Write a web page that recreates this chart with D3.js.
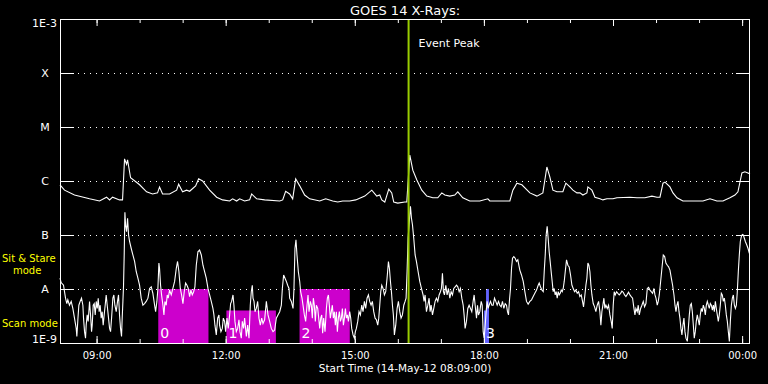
<!DOCTYPE html>
<html>
<head>
<meta charset="utf-8">
<script src="https://cdn.jsdelivr.net/npm/d3@7"></script>
<style>
  body { margin: 0; background: #000; }
  svg text { font-family: "DejaVu Sans", sans-serif; fill: #fff; }
</style>
</head>
<body>
<div id="chart"></div>
<script>
// set the dimensions and margins of the graph
var margin = { top: 19, right: 18, bottom: 41, left: 60 },
  width = 768 - margin.left - margin.right,
  height = 384 - margin.top - margin.bottom;

// minutes after 14-May-12 08:09:00, log10 of flux (W/m^2)
var longFlux = [
  [0,-6.07],[6.3,-6.17],[20.2,-6.26],[41.2,-6.33],[55.1,-6.37],[64.9,-6.30],[69.1,-6.35],[73.3,-6.30],
  [83.0,-6.35],[87.2,-6.35],[90.0,-5.59],[92.8,-5.69],[94.2,-5.61],[98.4,-5.94],[111.0,-6.07],[120.7,-6.20],
  [129.1,-6.24],[136.0,-6.22],[138.8,-6.11],[143.0,-6.24],[152.8,-6.24],[162.6,-6.17],[165.4,-6.06],[170.9,-6.20],
  [176.5,-6.17],[180.7,-6.19],[189.1,-6.09],[193.3,-5.96],[198.8,-6.00],[208.6,-6.17],[218.4,-6.30],[226.7,-6.35],
  [236.5,-6.37],[240.7,-6.33],[246.3,-6.37],[250.5,-6.33],[257.4,-6.37],[264.4,-6.35],[267.2,-6.24],[274.2,-6.33],
  [285.3,-6.35],[306.3,-6.37],[310.5,-6.35],[314.6,-6.19],[320.2,-6.24],[324.4,-6.33],[328.6,-5.96],[334.2,-6.09],
  [341.1,-6.26],[348.1,-6.33],[362.1,-6.37],[370.4,-6.33],[380.2,-6.37],[387.2,-6.39],[394.2,-6.37],[403.9,-6.37],
  [412.3,-6.35],[424.9,-6.28],[434.7,-6.17],[441.6,-6.28],[445.8,-6.26],[448.6,-6.35],[452.8,-6.39],[458.4,-6.15],
  [462.5,-6.22],[465.3,-6.39],[470.9,-6.41],[480.7,-6.39],[483.5,-6.39],[487.7,-5.52],[491.9,-5.80],[497.5,-5.98],
  [504.4,-6.17],[511.4,-6.28],[519.8,-6.31],[526.7,-6.31],[532.3,-6.22],[536.5,-6.26],[543.5,-6.28],[550.4,-6.26],
  [554.6,-6.20],[561.6,-6.31],[571.3,-6.37],[585.3,-6.37],[596.5,-6.33],[599.3,-6.37],[613.2,-6.37],[627.2,-6.37],
  [631.4,-6.17],[637.0,-6.04],[643.9,-6.07],[655.1,-6.22],[664.9,-6.28],[673.2,-6.22],[678.8,-5.74],[683.0,-5.93],
  [687.2,-6.17],[692.8,-6.20],[701.1,-6.20],[705.3,-6.04],[710.9,-6.11],[715.1,-6.17],[720.7,-6.22],[724.9,-6.22],
  [729.0,-6.26],[734.6,-6.22],[736.0,-6.11],[741.6,-6.17],[745.8,-6.30],[752.8,-6.33],[756.9,-6.35],[762.5,-6.33],
  [770.9,-6.33],[776.4,-6.31],[794.6,-6.30],[804.4,-6.31],[815.5,-6.31],[825.3,-6.28],[832.3,-6.30],[836.5,-6.30],
  [840.7,-6.04],[843.5,-6.02],[850.4,-6.11],[854.6,-6.22],[860.2,-6.31],[868.5,-6.37],[878.3,-6.37],[896.4,-6.37],
  [906.2,-6.33],[915.9,-6.37],[924.3,-6.37],[934.0,-6.31],[941.0,-6.26],[945.2,-6.20],[948.0,-6.02],[950.7,-5.85],
  [954.9,-5.83],[959.1,-5.85],[961.9,-5.87]
];

var shortFlux = [
  [0,-7.80],[1.6,-7.88],[4.9,-7.93],[7.7,-8.17],[9.5,-8.27],[10.9,-8.20],[13.2,-8.30],[15.6,-8.23],[17.9,-8.36],
  [20.2,-8.54],[22.6,-8.73],[23.5,-8.88],[24.9,-8.57],[26.3,-8.30],[28.1,-8.23],[30.0,-8.17],[31.9,-8.30],[32.8,-8.54],
  [34.2,-8.79],[35.6,-8.91],[36.5,-8.67],[37.9,-8.48],[39.3,-8.60],[41.2,-8.23],[42.6,-8.48],[44.0,-8.79],[44.9,-8.67],
  [46.3,-8.30],[47.7,-8.27],[49.1,-8.48],[50.5,-8.23],[51.9,-8.36],[53.3,-8.17],[54.6,-8.42],[56.0,-8.30],[57.4,-8.54],
  [58.8,-8.42],[60.2,-8.67],[61.6,-8.48],[63.0,-8.30],[64.4,-8.11],[65.8,-8.30],[67.2,-8.48],[69.1,-8.73],[70.5,-8.79],
  [71.9,-8.54],[73.7,-8.17],[75.1,-8.11],[76.5,-8.30],[78.4,-8.42],[80.2,-8.23],[81.6,-8.11],[83.0,-8.48],[84.4,-8.73],
  [85.8,-8.88],[86.7,-8.54],[87.7,-8.23],[88.6,-7.93],[89.5,-7.37],[90.5,-6.58],[91.4,-6.81],[92.8,-6.94],[94.2,-6.69],
  [95.6,-7.00],[97.0,-7.12],[99.3,-7.25],[101.6,-7.37],[104.0,-7.49],[106.3,-7.68],[108.6,-7.80],[110.9,-7.93],
  [113.2,-8.17],[115.6,-8.30],[117.9,-8.27],[120.2,-8.23],[122.6,-8.17],[124.9,-7.99],[127.2,-7.96],[129.5,-8.08],
  [131.9,-8.30],[133.3,-8.42],[135.1,-8.23],[136.5,-7.99],[137.9,-7.52],[138.8,-7.62],[140.2,-7.93],[141.6,-8.11],
  [143.5,-8.30],[144.9,-8.48],[146.3,-8.23],[148.1,-8.30],[149.5,-8.11],[150.9,-8.17],[152.8,-8.02],[155.1,-8.11],
  [157.4,-7.99],[159.8,-7.86],[162.1,-7.62],[163.9,-7.49],[165.8,-7.68],[167.7,-7.99],[169.5,-8.11],[171.4,-8.27],
  [173.2,-8.05],[175.1,-7.89],[177.0,-7.93],[178.8,-7.99],[180.7,-8.14],[182.5,-8.02],[184.4,-8.11],[186.3,-8.05],
  [188.1,-7.96],[190.0,-7.56],[192.3,-7.31],[194.6,-7.28],[197.0,-7.37],[199.3,-7.56],[201.6,-7.68],[203.9,-7.80],
  [206.3,-7.99],[208.6,-8.11],[210.9,-8.23],[213.2,-8.36],[214.6,-8.48],[216.0,-8.67],[217.9,-8.85],[219.8,-8.54],
  [221.6,-8.48],[222.5,-8.67],[224.4,-8.79],[226.3,-8.73],[227.7,-8.54],[229.5,-8.60],[230.9,-8.79],[232.8,-8.54],
  [234.6,-8.73],[236.5,-8.48],[237.9,-8.27],[239.3,-8.23],[241.2,-8.11],[242.5,-8.30],[243.9,-8.60],[245.8,-8.79],
  [247.7,-8.73],[249.5,-8.57],[250.9,-8.79],[252.8,-8.91],[254.2,-8.60],[256.0,-8.73],[257.4,-8.54],[259.8,-8.88],
  [261.6,-8.67],[263.5,-8.91],[265.3,-8.30],[266.7,-8.05],[268.1,-7.93],[269.1,-8.17],[270.5,-8.23],[271.9,-8.42],
  [273.7,-8.36],[275.6,-8.23],[277.4,-8.54],[279.3,-8.67],[281.2,-8.54],[283.0,-8.64],[285.3,-8.57],[287.7,-8.23],
  [290.0,-8.48],[292.3,-8.60],[294.6,-8.73],[297.0,-8.79],[299.3,-8.76],[301.6,-8.54],[303.9,-8.48],[306.3,-8.42],
  [308.6,-8.30],[310.0,-7.99],[311.8,-7.74],[313.7,-7.80],[315.6,-7.86],[317.4,-7.93],[319.3,-7.99],
  [320.2,-8.17],[322.5,-8.23],[324.9,-8.36],[326.2,-7.99],[327.6,-7.25],[329.0,-7.09],[330.4,-7.37],[332.3,-7.68],
  [334.2,-7.86],[335.5,-8.05],[337.4,-8.17],[338.8,-8.30],[340.7,-8.48],[342.5,-8.60],[344.4,-8.30],[345.8,-8.11],
  [347.2,-8.42],[349.0,-8.23],[350.4,-8.30],[351.8,-8.54],[353.2,-8.17],[354.6,-8.30],[356.0,-8.60],[357.4,-8.30],
  [359.3,-8.36],[360.7,-8.54],[362.1,-8.73],[363.5,-8.54],[364.9,-8.48],[366.2,-8.82],[367.6,-8.54],[369.5,-8.79],
  [371.4,-8.36],[372.8,-8.17],[374.2,-8.11],[375.5,-8.30],[376.9,-8.54],[378.3,-8.42],[379.7,-8.30],[381.1,-8.54],
  [382.5,-8.42],[383.9,-8.67],[385.3,-8.42],[386.7,-8.79],[388.1,-8.54],[389.5,-8.42],[390.9,-8.60],[392.3,-8.54],
  [393.7,-8.36],[395.1,-8.67],[396.5,-8.54],[397.9,-8.36],[399.3,-8.54],[400.7,-8.48],[402.1,-8.60],[403.9,-8.42],
  [405.3,-8.54],[406.7,-8.73],[408.6,-8.85],[410.4,-8.91],[411.8,-8.79],[413.2,-8.73],[415.1,-8.60],[416.9,-8.42],
  [418.8,-8.48],[420.7,-8.30],[422.5,-8.42],[424.4,-8.23],[426.2,-8.36],[428.1,-8.17],[430.0,-8.11],[431.8,-8.23],
  [433.7,-8.30],[435.5,-8.23],[437.4,-8.42],[439.3,-8.54],[441.1,-8.57],[443.0,-8.67],[444.4,-8.54],[445.8,-8.30],
  [447.2,-8.05],[448.6,-7.93],[450.4,-7.99],[452.3,-8.11],[454.1,-8.05],[456.0,-7.80],[457.9,-7.49],[459.3,-7.62],
  [460.7,-7.86],[462.1,-8.05],[463.5,-8.30],[464.8,-8.48],[466.2,-8.85],[468.1,-8.67],[470.0,-8.36],[471.8,-8.23],
  [473.7,-8.42],[475.5,-8.54],[477.4,-8.48],[479.3,-8.30],[481.1,-8.23],[482.5,-8.17],[483.9,-7.68],[485.3,-7.06],
  [488.6,-6.47],[490.0,-6.69],[491.4,-6.81],[493.2,-7.06],[495.1,-7.37],[496.9,-7.49],[499.3,-7.68],[501.6,-7.86],
  [503.9,-7.99],[506.2,-8.11],[507.6,-8.23],[509.0,-8.11],[510.9,-8.42],[512.8,-8.30],[514.6,-8.17],[516.0,-8.42],
  [517.4,-8.30],[519.3,-8.48],[521.1,-8.36],[523.0,-8.23],[524.8,-8.17],[526.7,-8.23],[528.6,-8.11],[530.4,-8.05],
  [531.8,-7.99],[533.2,-7.71],[534.6,-8.05],[536.0,-8.11],[537.9,-7.93],[539.7,-8.11],[541.6,-7.99],[543.5,-8.17],
  [545.3,-8.05],[547.2,-8.11],[549.0,-7.99],[550.9,-7.96],[552.8,-7.93],[554.6,-7.96],[556.5,-8.05],[558.3,-7.99],
  [560.2,-8.17],[562.1,-8.30],[563.4,-8.48],[564.8,-8.73],[566.7,-8.60],[568.6,-8.36],[570.4,-8.30],[572.3,-8.36],
  [574.1,-8.42],[576.0,-8.23],[577.4,-8.11],[578.8,-8.30],[580.7,-8.54],[582.1,-8.30],[583.4,-8.48],[585.3,-8.42],
  [587.2,-8.23],[588.6,-8.30],[590.0,-8.79],[591.4,-8.91],[592.8,-8.67],[594.1,-8.42],[595.5,-8.23],[596.9,-8.36],
  [598.3,-8.30],[600.2,-8.23],[602.1,-8.30],[603.9,-8.30],[605.8,-8.17],[607.6,-8.23],[609.5,-8.30],[611.4,-8.23],
  [613.2,-8.30],[615.1,-8.33],[616.9,-8.23],[618.8,-8.36],[620.7,-8.27],[622.5,-8.30],[623.9,-8.42],[625.3,-8.48],
  [626.7,-8.20],[628.1,-7.99],[629.5,-7.62],[630.9,-7.43],[632.7,-7.40],[634.6,-7.43],[636.5,-7.49],[638.3,-7.46],
  [640.2,-7.59],
  [641.1,-7.65],[643.4,-7.74],[645.8,-7.86],[648.1,-8.05],[650.4,-8.23],[652.7,-8.28],[655.1,-8.23],[657.4,-8.20],
  [659.7,-8.14],[662.0,-8.08],[664.4,-8.02],[666.7,-7.93],[668.1,-7.89],[669.9,-7.96],[671.8,-8.02],[673.7,-8.05],
  [675.1,-7.68],[676.5,-7.37],[677.8,-7.00],[679.2,-6.84],[680.6,-7.06],[682.0,-7.31],[683.4,-7.49],[684.8,-7.68],
  [686.2,-7.86],[687.6,-8.05],[689.0,-7.99],[690.4,-8.11],[691.8,-8.05],[693.2,-8.17],[694.6,-8.05],[696.0,-8.11],
  [697.4,-8.08],[698.8,-8.02],[700.2,-8.05],[701.6,-7.99],[703.0,-7.86],[704.4,-7.68],[706.2,-7.46],[708.1,-7.56],
  [709.9,-7.59],[711.8,-7.74],[713.7,-7.93],[715.5,-7.99],[717.4,-8.05],[719.2,-8.02],[721.1,-8.08],[723.0,-8.05],
  [724.8,-8.14],[726.7,-8.11],[728.5,-8.23],[729.9,-8.33],[731.8,-8.11],[733.2,-7.93],[734.6,-7.80],[736.0,-7.52],
  [737.4,-7.56],[738.8,-7.68],[740.2,-7.93],[741.6,-8.11],[743.4,-8.27],[745.3,-8.33],[747.1,-8.42],[749.0,-8.30],
  [750.9,-8.23],[752.7,-8.42],[754.1,-8.67],[755.5,-8.42],[756.9,-8.30],[758.3,-8.17],[759.7,-8.36],[761.1,-8.30],
  [763.0,-8.36],[764.8,-8.30],[766.7,-8.48],[768.5,-8.60],[769.9,-8.73],[771.3,-8.30],[772.7,-8.05],[774.1,-8.11],
  [776.0,-8.05],[777.8,-8.08],[779.7,-8.11],[781.6,-8.08],[783.4,-8.04],[785.3,-8.06],[787.1,-8.11],[789.0,-8.14],
  [790.9,-8.10],[792.7,-8.06],[794.6,-8.11],[796.4,-8.14],[798.3,-8.17],[800.2,-8.36],[801.6,-8.48],[802.9,-8.36],
  [804.8,-8.42],[806.2,-8.30],[807.6,-8.48],[809.5,-8.36],[811.3,-8.30],[813.2,-8.23],[815.0,-8.33],[816.9,-8.27],
  [818.8,-7.99],[820.6,-7.97],[822.5,-8.02],[824.3,-8.05],[826.2,-8.08],[828.1,-7.99],[829.5,-8.11],[830.9,-8.17],
  [832.7,-8.30],[834.1,-8.23],[835.5,-8.11],[837.4,-7.86],[839.2,-7.62],[841.1,-7.37],[843.0,-7.40],[844.8,-7.52],
  [846.7,-7.56],[848.5,-7.59],[850.4,-7.65],[852.3,-7.80],[854.1,-7.93],[856.0,-8.11],[857.4,-8.30],[858.8,-8.42],
  [860.2,-8.30],[861.6,-8.23],[863.0,-8.42],[864.3,-8.54],[865.7,-8.73],[867.1,-8.85],[868.5,-8.67],[869.9,-8.54],
  [871.3,-8.79],[872.7,-8.91],[874.6,-8.97],[876.0,-8.73],[877.4,-8.48],[878.8,-8.30],[880.2,-8.27],[881.6,-8.42],
  [883.0,-8.67],[884.3,-8.91],[885.7,-8.79],[887.1,-8.60],[888.5,-8.48],[889.9,-8.57],[891.3,-8.67],[892.7,-8.48],
  [894.1,-8.36],[895.5,-8.42],[896.9,-8.30],[898.3,-8.36],[899.7,-8.48],[901.1,-8.30],[902.5,-8.23],[903.9,-8.30],
  [905.3,-8.36],[906.7,-8.27],[908.1,-8.30],[909.5,-8.39],[910.9,-8.30],[912.3,-8.42],[913.7,-8.23],[915.0,-8.36],
  [916.4,-8.48],[917.8,-8.60],[919.2,-8.48],[920.6,-8.30],[922.0,-8.08],[923.4,-8.11],[924.8,-8.23],[926.2,-8.17],
  [927.6,-8.30],[929.0,-8.48],[930.4,-8.60],[931.8,-8.79],[933.2,-8.97],[934.6,-8.60],[936.0,-8.30],[937.4,-8.17],
  [938.8,-8.11],[940.2,-8.30],[941.6,-8.36],[943.0,-8.30],[944.3,-8.05],[945.7,-7.68],[947.1,-7.37],[948.5,-7.12],
  [949.9,-7.03],[951.3,-6.99],[952.7,-7.00],[954.1,-7.06],[955.5,-7.12],[957.4,-7.18],[959.3,-7.25],[961.1,-7.34]
];

// flux levels and their names on the left
var levelValues = [1e-3, 1e-4, 1e-5, 1e-6, 1e-7, 1e-8, 1e-9];
var levelNames = ["1E-3", "X", "M", "C", "B", "A", "1E-9"];

// observing blocks: start / end minute, mode, block number
var obsStart = [137, 232, 334, 591, 594];
var obsEnd = [207, 301, 404, 598, 598];
var obsMode = ["sit", "scan", "sit", "scan", "sit"];
var obsId = [0, 1, 2, 3, 3];
var modeTop = { sit: 1e-8, scan: 4e-9 };

var eventPeak = 486; // minutes, 16:15
var endMinute = 962;

var t0 = new Date(2012, 4, 14, 8, 9, 0);
function toTime(m) {
  return new Date(t0.getTime() + m * 60000);
}

var svg = d3
  .select("#chart")
  .append("svg")
  .attr("width", width + margin.left + margin.right)
  .attr("height", height + margin.top + margin.bottom);

var canvas = svg
  .append("g")
  .attr("transform", "translate(" + margin.left + "," + margin.top + ")");

var x = d3.scaleTime().domain([t0, toTime(endMinute)]).range([0, width]);
var y = d3.scaleLog().domain([1e-9, 1e-3]).range([height, 0]);

// observing blocks
canvas
  .selectAll("rect.obs")
  .data(obsStart)
  .enter()
  .append("rect")
  .attr("class", "obs")
  .attr("x", (d) => x(toTime(d)))
  .attr("width", (d, i) => x(toTime(obsEnd[i])) - x(toTime(d)))
  .attr("y", (d, i) => y(modeTop[obsMode[i]]))
  .attr("height", (d, i) => height - y(modeTop[obsMode[i]]))
  .attr("fill", (d, i) => (obsId[i] == 3 ? "#6464ff" : "#cc00cc"));

canvas
  .selectAll("text.obs")
  .data(obsStart.filter((d, i) => obsId.indexOf(obsId[i]) == i))
  .enter()
  .append("text")
  .attr("class", "obs")
  .attr("x", (d) => x(toTime(d)) + 2)
  .attr("y", height - 5)
  .style("font-size", "14px")
  .text((d, i) => obsId[i]);

// dotted levels
canvas
  .selectAll("line.grid")
  .data(levelValues.slice(1, 6))
  .enter()
  .append("line")
  .attr("class", "grid")
  .attr("x1", 0)
  .attr("x2", width)
  .attr("y1", (d) => Math.round(y(d)) + 0.5)
  .attr("y2", (d) => Math.round(y(d)) + 0.5)
  .attr("stroke", "#fff")
  .attr("stroke-dasharray", "1,5");

// solid level ticks on both sides
[0, width - 14].forEach((x0) => {
  canvas
    .selectAll(null)
    .data(levelValues.slice(1, 6))
    .enter()
    .append("line")
    .attr("x1", x0)
    .attr("x2", x0 + 14)
    .attr("y1", (d) => Math.round(y(d)) + 0.5)
    .attr("y2", (d) => Math.round(y(d)) + 0.5)
    .attr("stroke", "#fff");
});

// time ticks, top and bottom
var majorTicks = d3.timeHour.every(3);
var minorTicks = d3.timeHour.every(1);

canvas
  .append("g")
  .attr("transform", "translate(0," + height + ")")
  .call(d3.axisBottom(x).ticks(minorTicks).tickFormat("").tickSizeInner(-4).tickSizeOuter(0));
canvas
  .append("g")
  .attr("transform", "translate(0," + height + ")")
  .attr("class", "major")
  .call(
    d3.axisBottom(x).ticks(majorTicks).tickFormat(d3.timeFormat("%H:%M"))
      .tickSizeInner(-7).tickSizeOuter(0).tickPadding(9)
  );
canvas
  .append("g")
  .call(d3.axisTop(x).ticks(minorTicks).tickFormat("").tickSizeInner(-4).tickSizeOuter(0));
canvas
  .append("g")
  .call(d3.axisTop(x).ticks(majorTicks).tickFormat("").tickSizeInner(-7).tickSizeOuter(0));

canvas.selectAll(".domain").remove();
canvas.selectAll(".tick line").attr("stroke", "#fff");
canvas
  .selectAll(".major .tick text")
  .attr("fill", "#fff")
  .attr("dy", "0.7em")
  .style("font-size", "10px")
  .style("font-family", "DejaVu Sans, sans-serif");

// flux curves
var line = d3
  .line()
  .x((d) => x(toTime(d[0])))
  .y((d) => y(Math.pow(10, d[1])));

canvas
  .append("path")
  .datum(longFlux)
  .attr("d", line)
  .attr("fill", "none")
  .attr("stroke", "#fff")
  .attr("stroke-width", 1.1);

canvas
  .append("path")
  .datum(shortFlux)
  .attr("d", line)
  .attr("fill", "none")
  .attr("stroke", "#fff")
  .attr("stroke-width", 1.1);

// event peak
canvas
  .append("line")
  .attr("x1", x(toTime(eventPeak)))
  .attr("x2", x(toTime(eventPeak)))
  .attr("y1", 0)
  .attr("y2", height)
  .attr("stroke", "#99cc00")
  .attr("stroke-width", 2);

canvas
  .append("text")
  .attr("x", x(toTime(eventPeak)) + 10)
  .attr("y", 28)
  .style("font-size", "11px")
  .text("Event Peak");

// frame
canvas
  .append("rect")
  .attr("x", 0.5)
  .attr("y", 0.5)
  .attr("width", width - 1)
  .attr("height", height)
  .attr("fill", "none")
  .attr("stroke", "#fff");

// level labels
svg
  .selectAll("text.level")
  .data(levelValues)
  .enter()
  .append("text")
  .attr("class", "level")
  .attr("x", (d, i) => (i == 0 || i == 6 ? margin.left - 3 : 45))
  .attr("y", (d, i) => {
    var yy = margin.top + y(d);
    if (i == 0) return yy + 8;
    if (i == 6) return yy;
    return yy + 4;
  })
  .attr("text-anchor", (d, i) => (i == 0 || i == 6 ? "end" : "middle"))
  .style("font-size", "11px")
  .text((d, i) => levelNames[i]);

// mode labels
var modeLabels = [
  { text: "Sit & Stare", x: 2, y: 262 },
  { text: "mode", x: 13, y: 274 },
  { text: "Scan mode", x: 2, y: 327 },
];
svg
  .selectAll("text.mode")
  .data(modeLabels)
  .enter()
  .append("text")
  .attr("class", "mode")
  .attr("x", (d) => d.x)
  .attr("y", (d) => d.y)
  .style("font-size", "10px")
  .style("fill", "#ffff00")
  .text((d) => d.text);

// titles
svg
  .append("text")
  .attr("x", margin.left + width / 2)
  .attr("y", 15)
  .attr("text-anchor", "middle")
  .style("font-size", "13px")
  .text("GOES 14 X-Rays:");

svg
  .append("text")
  .attr("x", margin.left + width / 2)
  .attr("y", 372)
  .attr("text-anchor", "middle")
  .style("font-size", "10.5px")
  .text("Start Time (14-May-12 08:09:00)");
</script>
</body>
</html>
